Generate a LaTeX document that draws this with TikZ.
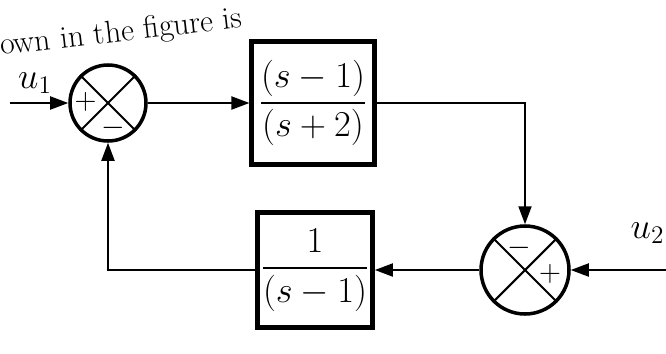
\documentclass[tikz,border=0pt]{standalone}
\usepackage{amsmath}
\usetikzlibrary{arrows.meta, positioning, calc}

\begin{document}
\begin{tikzpicture}[
  >={Triangle[length=3.6mm, width=2.6mm]},
  tfbox/.style={
    draw, line width=2.6pt, minimum width=#1, minimum height=#1,
    font=\fontsize{20}{24}\selectfont, inner sep=2pt
  },
  sumnode/.style={
    draw, circle, line width=2pt, minimum size=#1, inner sep=0pt
  },
  arr/.style={->, line width=1.1pt},
  xline/.style={line width=1.2pt},
  siglbl/.style={font=\fontsize{18}{20}\selectfont, inner sep=0pt},
  sglbl/.style={font=\fontsize{22}{24}\selectfont, inner sep=0pt},
]

% Page frame
\useasboundingbox (0,0) rectangle (13.32,7.06);

% Text cut from the page above
\node[anchor=base west, rotate=6.5, font=\fontsize{18}{20}\selectfont, inner sep=0pt]
  (pagetxt) at (0.02,5.96) {own in the figure is};

% =============================================
% Forward path
% =============================================
\node[sumnode=1.52cm] (s1) at (2.16,5.0) {};
\draw[xline] (s1.45) -- (s1.225);
\draw[xline] (s1.135) -- (s1.-45);
\node[siglbl] (s1p) at ($(s1.center)+(-0.45,0.03)$) {$+$};
\node[siglbl] (s1m) at ($(s1.center)+(0.1,-0.5)$) {$-$};

\node[tfbox=2.45cm] (b1) at (6.26,5.0) {$\dfrac{(s-1)}{(s+2)}$};

% =============================================
% Feedback path
% =============================================
\node[sumnode=1.76cm] (s2) at (10.5,1.66) {};
\draw[xline] (s2.45) -- (s2.225);
\draw[xline] (s2.135) -- (s2.-45);
\node[siglbl] (s2m) at ($(s2.center)+(-0.12,0.45)$) {$-$};
\node[siglbl] (s2p) at ($(s2.center)+(0.5,-0.08)$) {$+$};

\node[tfbox=2.3cm] (b2) at (6.3,1.66) {$\dfrac{1}{(s-1)}$};

% Inputs
\coordinate (u1in) at (0.2,5.0);
\coordinate (u2in) at (13.32,1.66);
\node[sglbl] (u1) at (0.7,5.4) {$u_1$};
\node[sglbl] (u2) at (12.95,2.4) {$u_2$};

% Connectors
\draw[arr] (u1in) -- (s1.west);
\draw[arr] (s1.east) -- (b1.west);
\draw[arr] (b1.east) -| (s2.north);
\draw[arr] (u2in) -- (s2.east);
\draw[arr] (s2.west) -- (b2.east);
\draw[arr] (b2.west) -| (s1.south);

\end{tikzpicture}
\end{document}
